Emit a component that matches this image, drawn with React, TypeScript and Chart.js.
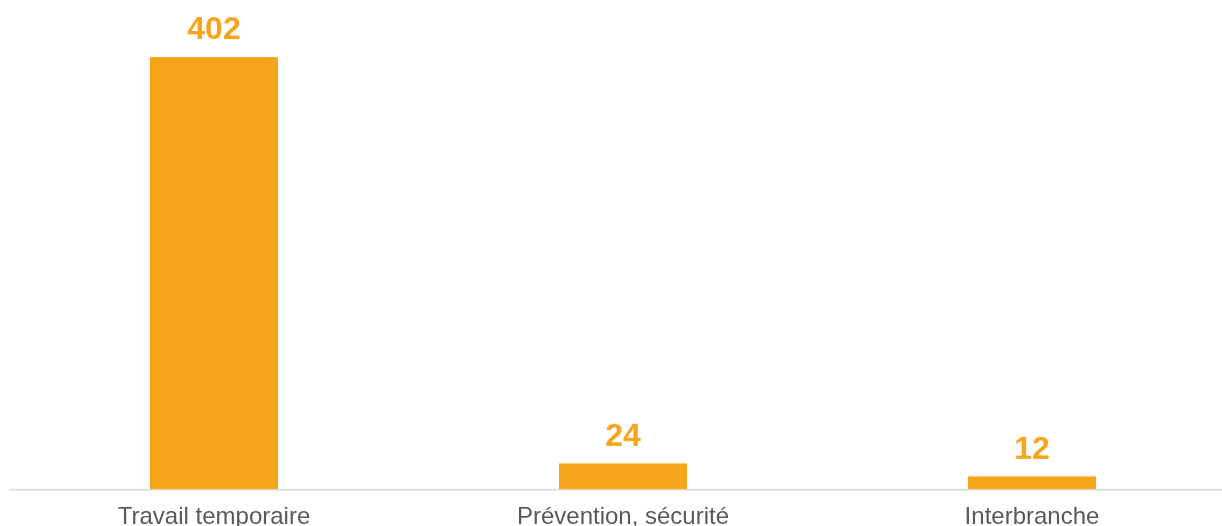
import React, { useEffect, useRef } from "react";
import { Chart, registerables } from "chart.js";

Chart.register(...registerables);

const categories: string[] = ["Travail temporaire", "Prévention, sécurité", "Interbranche"];
const values: number[] = [402, 24, 12];
const yMax = 450;

const ORANGE = "#F5A41B";
const FONT = "'Liberation Sans', Arial, sans-serif";

const valueLabels = {
  id: "valueLabels",
  afterDatasetsDraw(chart: any) {
    const ctx = chart.ctx;
    const meta = chart.getDatasetMeta(0);
    ctx.save();
    ctx.fillStyle = ORANGE;
    ctx.font = `bold 32px ${FONT}`;
    ctx.textAlign = "center";
    ctx.textBaseline = "alphabetic";
    meta.data.forEach((bar: any, i: number) => {
      ctx.fillText(String(values[i]), bar.x, bar.y - 17.5);
    });
    ctx.restore();
  },
};

export default function App() {
  const ref = useRef<HTMLCanvasElement>(null);
  useEffect(() => {
    if (!ref.current) return;
    const chart = new Chart(ref.current, {
      type: "bar",
      data: {
        labels: categories,
        datasets: [
          {
            data: values,
            backgroundColor: ORANGE,
            borderWidth: 0,
            barPercentage: 0.313,
            categoryPercentage: 1,
          },
        ],
      },
      options: {
        animation: false,
        responsive: true,
        maintainAspectRatio: false,
        layout: { padding: { left: 9.5, right: 3.5, top: 5.5, bottom: 0 } },
        plugins: { legend: { display: false }, tooltip: { enabled: false } },
        scales: {
          x: {
            grid: { display: false, drawTicks: false },
            border: { display: true, color: "#d9d9d9", width: 1.5 },
            ticks: {
              color: "#595959",
              font: { family: FONT, size: 24 },
              padding: 13.7,
              maxRotation: 0,
              autoSkip: false,
            },
          },
          y: {
            display: false,
            min: 0,
            max: yMax,
          },
        },
      },
      plugins: [valueLabels],
    });
    return () => chart.destroy();
  }, []);
  return (
    <div style={{ position: "absolute", left: 0, top: 0, width: 1222, height: 526, overflow: "hidden" }}>
      <div style={{ position: "absolute", left: 0, top: 0, width: 1240, height: 544.5 }}>
        <canvas ref={ref} />
      </div>
    </div>
  );
}
